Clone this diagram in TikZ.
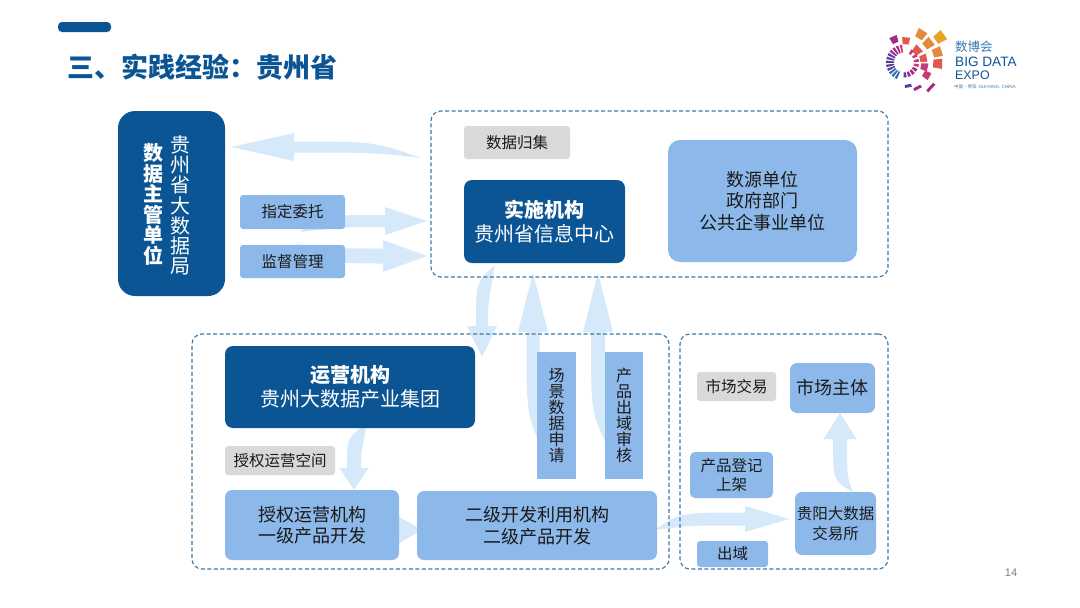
\documentclass[tikz,border=0pt]{standalone}
\usepackage{fontspec}
\setmainfont{Noto Sans CJK SC}
\newfontfamily\logofont{Liberation Sans}
\usetikzlibrary{calc,backgrounds}
\definecolor{deepblue}{HTML}{0B5594}
\definecolor{midblue}{HTML}{8DB9EA}
\definecolor{paleblue}{HTML}{D5E9FB}
\definecolor{dashblue}{HTML}{3A78A8}
\definecolor{greybg}{HTML}{D9D9D9}
\definecolor{inkdark}{HTML}{1A1A1A}
\definecolor{logoa}{HTML}{E6A326}
\definecolor{logob}{HTML}{E58A3C}
\definecolor{logoc}{HTML}{DF5A4E}
\definecolor{logod}{HTML}{C93A78}
\definecolor{logoe}{HTML}{A02C8C}
\definecolor{logof}{HTML}{5A3C98}
\definecolor{logog}{HTML}{2F6FB0}
% tail, tip, angle back from the tip, head length, head half, neck half, two bends
\newcommand{\flowarrow}[8]{
    \fill[flowfill] (#1) .. controls ($(#2)+(#3:#4+#7)+(#3+90:#6)$) .. ($(#2)+(#3:#4)+(#3+90:#6)$)
        -- ($(#2)+(#3:#4)+(#3+90:#5)$) -- (#2) -- ($(#2)+(#3:#4)+(#3-90:#5)$)
        -- ($(#2)+(#3:#4)+(#3-90:#6)$) .. controls ($(#2)+(#3:#4+#8)+(#3-90:#6)$) .. (#1) -- cycle;
}
\begin{document}
\begin{tikzpicture}[x=1pt,y=-1pt]
    \tikzset{
        panel/.style={draw=dashblue, dash pattern=on 4pt off 2.5pt, line width=1.1pt, rounded corners=10pt, inner sep=0pt},
        darkbox/.style={fill=deepblue, text=white, rounded corners=8pt, align=center, inner sep=0pt, font=\fontsize{20}{24}\selectfont},
        lightbox/.style={fill=midblue, text=inkdark, rounded corners=7pt, align=center, inner sep=0pt, font=\fontsize{18}{21.5}\selectfont},
        tagbox/.style={fill=midblue, text=inkdark, rounded corners=3pt, align=center, inner sep=0pt, font=\fontsize{15.5}{19}\selectfont},
        greybox/.style={fill=greybg, text=inkdark, rounded corners=3pt, align=center, inner sep=0pt, font=\fontsize{15.5}{19}\selectfont},
        flowfill/.style={fill=paleblue}
    }
    \useasboundingbox (0,0) rectangle (1080,608);

    % title
    \node[fill=deepblue, rounded corners=4pt, minimum width=53pt, minimum height=10pt, inner sep=0pt] (titlebar) at (84.5,27) {};
    \node[anchor=west, inner sep=0pt, text=deepblue, font=\fontsize{27}{30}\selectfont\bfseries] (title) at (67,67) {三、实践经验：贵州省};
    \node[text=gray, inner sep=0pt, font=\logofont\fontsize{11}{12}\selectfont] (pagenum) at (1011,573) {14};

    % logo
    \begin{scope}[shift={(904,62.5)}]
        \foreach \a/\r/\s/\col in {35/44/10/logoa, 59/33/9/logob, 38/31/9/logob, 17/35/9/logob, -2/34/9/logoc,
                                   85/22/7/logoc, 113/25/7/logoe, 43/18/8/logoc, 12/20/7/logoc, -12/21/7/logod,
                                   -29/26/7/logod}{
            \pgfmathsetmacro{\da}{deg(\s/2/\r)}
            \fill[\col] (-\a-\da:\r-\s/2) -- (-\a-\da:\r+\s/2) -- (-\a+\da:\r+\s/2) -- (-\a+\da:\r-\s/2) -- cycle;
        }
        \foreach \a/\col in {100/logod, 113/logoe, 126/logoe, 139/logoe, 152/logof, 165/logof, 178/logof, 191/logof, 204/logof, 217/logog, 230/logog, 243/logog}{
            \fill[\col] (-\a-4:10) -- (-\a-4:18) -- (-\a+4:18) -- (-\a+4:10) -- cycle;
        }
        \foreach \a/\col in {55/logod, 30/logod, 8/logod, -12/logod, -32/logoe, -50/logoe, -68/logoe, -86/logof}{
            \fill[\col] (-\a-6:10) -- (-\a-6:15) -- (-\a+6:15) -- (-\a+6:10) -- cycle;
        }
        \foreach \a/\r/\col in {-43/37/logoe, -62/29/logoe, -80/24/logof}{
            \fill[\col] (-\a-8:\r-1.5) -- (-\a-8:\r+1.5) -- (-\a+8:\r+1.5) -- (-\a+8:\r-1.5) -- cycle;
        }
    \end{scope}
    \node[anchor=west, inner sep=0pt, text=dashblue, font=\fontsize{12.5}{14}\selectfont] (logocn) at (955,47) {数博会};
    \node[anchor=west, inner sep=0pt, text=deepblue, font=\logofont\fontsize{13.6}{16}\selectfont] (logobig) at (955,62) {BIG DATA};
    \node[anchor=west, inner sep=0pt, text=deepblue, font=\logofont\fontsize{12.4}{16}\selectfont] (logoexpo) at (955,75) {EXPO};
    \node[anchor=west, inner sep=0pt, text=dashblue, font=\fontsize{4.5}{6}\selectfont] (logoloc) at (954,87) {中国·贵阳\ \ {\logofont GUIYANG, CHINA}};

    % panels
    \node[panel, minimum width=457pt, minimum height=166pt] (toppanel) at (659.5,194) {};
    \node[panel, minimum width=477pt, minimum height=235pt] (leftpanel) at (430.5,451.5) {};
    \node[panel, minimum width=208pt, minimum height=235pt] (rightpanel) at (784,451.5) {};

    % boxes
    \node[darkbox, rounded corners=17pt, minimum width=107pt, minimum height=185pt] (owner) at (171.5,203.5) {};
    \node[text=white, inner sep=0pt, align=center, font=\fontsize{20}{20.5}\selectfont\bfseries] (ownerbold) at (153,204.5) {数\\据\\主\\管\\单\\位};
    \node[text=white, inner sep=0pt, align=center, font=\fontsize{20}{20.2}\selectfont] (ownername) at (180,205.5) {贵\\州\\省\\大\\数\\据\\局};
    \node[tagbox, minimum width=105pt, minimum height=34pt] (entrust) at (292.5,212) {指定委托};
    \node[tagbox, minimum width=105pt, minimum height=33pt] (supervise) at (292.5,261.5) {监督管理};
    \node[greybox, minimum width=106pt, minimum height=33pt] (collect) at (517,142.5) {数据归集};
    \node[darkbox, minimum width=161pt, minimum height=83pt] (impl) at (544.5,221.5) {\textbf{实施机构}\\贵州省信息中心};
    \node[lightbox, rounded corners=12pt, minimum width=189pt, minimum height=122pt] (source) at (762.5,201) {数源单位\\政府部门\\公共企事业单位};
    \node[darkbox, minimum width=250pt, minimum height=82pt] (oper) at (350,387) {\textbf{运营机构}\\贵州大数据产业集团};
    \node[greybox, minimum width=110pt, minimum height=29pt] (space) at (280,460.5) {授权运营空间};
    \node[lightbox, minimum width=174pt, minimum height=70pt] (first) at (312,525) {授权运营机构\\一级产品开发};
    \node[lightbox, minimum width=240pt, minimum height=69pt] (second) at (537,525.5) {二级开发利用机构\\二级产品开发};
    \node[tagbox, rounded corners=0pt, minimum width=39pt, minimum height=127pt, font=\fontsize{16}{16}\selectfont] (scene) at (556.5,415.5) {场\\景\\数\\据\\申\\请};
    \node[tagbox, rounded corners=0pt, minimum width=38pt, minimum height=127pt, font=\fontsize{16}{16}\selectfont] (audit) at (624,415.5) {产\\品\\出\\域\\审\\核};
    \node[greybox, minimum width=79pt, minimum height=29pt] (trade) at (736.5,386.5) {市场交易};
    \node[lightbox, minimum width=85pt, minimum height=50pt] (market) at (832.5,388) {市场主体};
    \node[tagbox, rounded corners=5pt, minimum width=83pt, minimum height=46pt] (listing) at (731.5,475) {产品登记\\上架};
    \node[tagbox, minimum width=71pt, minimum height=26pt] (outbound) at (732.5,554) {出域};
    \node[lightbox, minimum width=81pt, minimum height=63pt, font=\fontsize{15.5}{20}\selectfont] (exchange) at (835.5,523.5) {贵阳大数据\\交易所};

    % flow ends
    \coordinate (tailback) at (421,158);
    \coordinate (tipback) at (231,147);
    \coordinate (tailentrust) at (300,232);
    \coordinate (tipentrust) at (427,221);
    \coordinate (tailsuper) at (296,244);
    \coordinate (tipsuper) at (427,256);
    \coordinate (taildown) at (495,265);
    \coordinate (tipdown) at (482,357);
    \coordinate (tailscene) at (540,445);
    \coordinate (tipscene) at (533,273);
    \coordinate (tailaudit) at (607,445);
    \coordinate (tipaudit) at (598,273);
    \coordinate (tailspace) at (367,423);
    \coordinate (tipspace) at (354,490);
    \coordinate (tailsecond) at (655,530);
    \coordinate (tipsecond) at (789,519);
    \coordinate (tailmarket) at (853,492);
    \coordinate (tipmarket) at (840,413);

    % flows
    \begin{pgfonlayer}{background}
        \flowarrow{tailback}{tipback}{0}{63}{14}{5.5}{80}{80}
        \flowarrow{tailentrust}{tipentrust}{180}{42}{14}{6}{60}{40}
        \flowarrow{tailsuper}{tipsuper}{180}{44}{16}{7.5}{50}{50}
        \flowarrow{taildown}{tipdown}{270}{31}{15}{6}{22}{44}
        \flowarrow{tailscene}{tipscene}{90}{59}{15}{6.5}{80}{50}
        \flowarrow{tailaudit}{tipaudit}{90}{59}{15}{7}{80}{50}
        \flowarrow{tailspace}{tipspace}{270}{22}{14.5}{7}{15}{30}
        \flowarrow{tailsecond}{tipsecond}{180}{44}{13}{6.5}{65}{55}
        \flowarrow{tailmarket}{tipmarket}{90}{26}{16.5}{7}{42}{38}
        \fill[flowfill] (first.east |- 0,517) -- (422,530) -- (first.east |- 0,543) -- cycle;
    \end{pgfonlayer}
\end{tikzpicture}
\end{document}
